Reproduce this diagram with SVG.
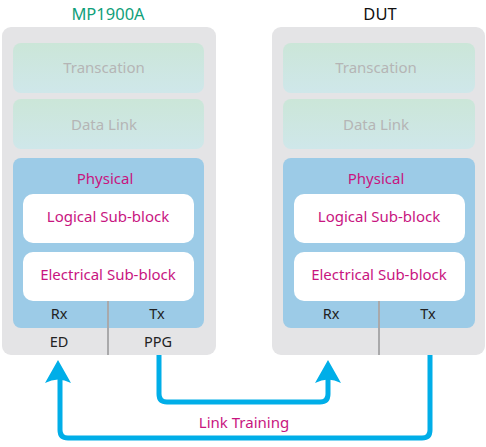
<svg xmlns="http://www.w3.org/2000/svg" width="486" height="447" viewBox="0 0 486 447">
<defs>
<linearGradient id="g" x1="0" y1="0" x2="0" y2="1">
<stop offset="0" stop-color="#cbe6d8"/>
<stop offset="1" stop-color="#cfe7ea"/>
</linearGradient>
<style>
text{font-family:"Noto Sans","Open Sans","Liberation Sans",sans-serif;text-anchor:middle}
.panel{fill:#e4e4e6}
.layer{fill:url(#g)}
.phy{fill:#9ccbe7}
.sub{fill:#ffffff}
.faded{fill:#b5b5b5;font-size:15px}
.mag{fill:#c8157f;font-size:15px}
.blk{fill:#222;font-size:14.5px}
.div{stroke:#a9a9ab;stroke-width:2}
.conn{fill:none;stroke:#00aee8;stroke-width:5;stroke-linejoin:round}
.head{fill:#00aee8}
</style>
</defs>
<g id="mp1900a">
<text x="108" y="20" style="fill:#10a07a;font-size:16.5px">MP1900A</text>
<rect class="panel" x="2" y="27" width="214" height="328" rx="9"/>
<rect class="layer" x="13" y="43" width="191" height="50" rx="8"/>
<text class="faded" x="104" y="73">Transcation</text>
<rect class="layer" x="13" y="99" width="191" height="50" rx="8"/>
<text class="faded" x="104" y="130">Data Link</text>
<rect class="phy" x="13" y="158" width="191" height="170" rx="8"/>
<text class="mag" x="105" y="184">Physical</text>
<rect class="sub" x="23" y="194" width="171" height="49" rx="10"/>
<text class="mag" x="108" y="222">Logical Sub-block</text>
<rect class="sub" x="23" y="252" width="171" height="49" rx="10"/>
<text class="mag" x="108" y="280">Electrical Sub-block</text>
<line class="div" x1="108" y1="301" x2="108" y2="355"/>
<text class="blk" x="59" y="319">Rx</text>
<text class="blk" x="157" y="319">Tx</text>
<text class="blk" x="59" y="347">ED</text>
<text class="blk" x="158" y="347">PPG</text>
</g>
<g id="dut">
<text x="380" y="20" style="fill:#111;font-size:16.5px">DUT</text>
<rect class="panel" x="272" y="27" width="213" height="328" rx="9"/>
<rect class="layer" x="283" y="43" width="192" height="50" rx="8"/>
<text class="faded" x="376" y="73">Transcation</text>
<rect class="layer" x="283" y="99" width="192" height="50" rx="8"/>
<text class="faded" x="376" y="130">Data Link</text>
<rect class="phy" x="283" y="158" width="192" height="170" rx="8"/>
<text class="mag" x="376" y="184">Physical</text>
<rect class="sub" x="294" y="194" width="171" height="49" rx="10"/>
<text class="mag" x="379" y="222">Logical Sub-block</text>
<rect class="sub" x="294" y="252" width="171" height="49" rx="10"/>
<text class="mag" x="379" y="280">Electrical Sub-block</text>
<line class="div" x1="379" y1="301" x2="379" y2="355"/>
<text class="blk" x="331" y="319">Rx</text>
<text class="blk" x="428" y="319">Tx</text>
</g>
<g id="connectors">
<path class="conn" d="M159,355 V394 Q159,402 167,402 H320 Q328,402 328,394 V378"/>
<path class="head" d="M328,360 L341,383 Q328,376 315,383 Z"/>
<path class="conn" d="M430,355 V430 Q430,438 422,438 H68 Q60,438 60,430 V378"/>
<path class="head" d="M58,360 L71,383 Q58,376 45,383 Z"/>
<text class="mag" x="244" y="428">Link Training</text>
</g>
</svg>
